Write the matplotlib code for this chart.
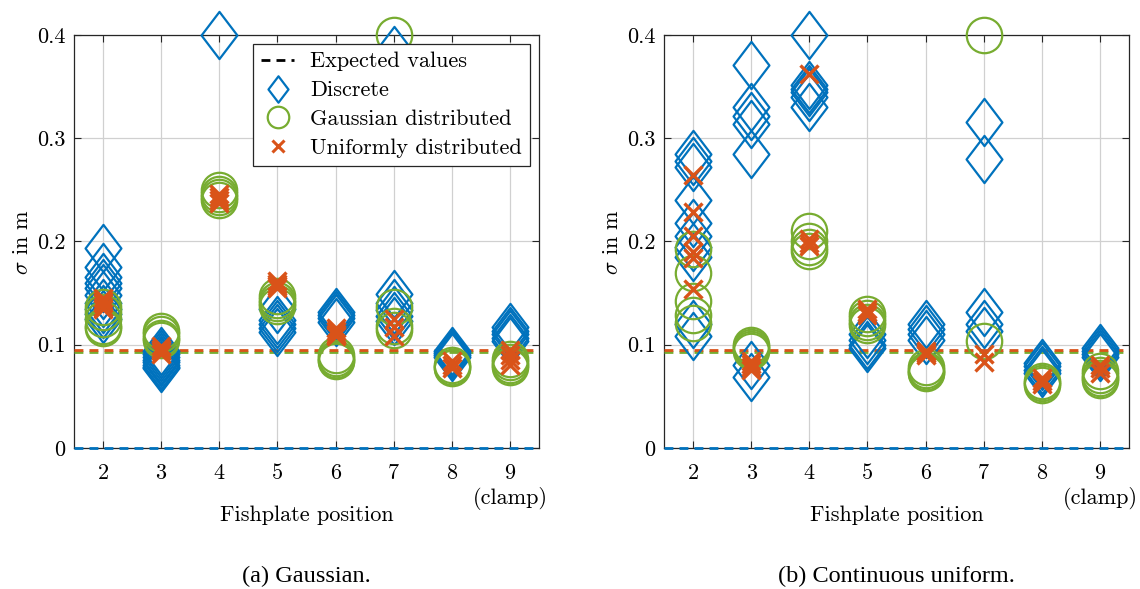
import matplotlib
matplotlib.use("Agg")
import matplotlib.pyplot as plt
from matplotlib.path import Path
from matplotlib.lines import Line2D

# ---------------- data ----------------
positions = [2, 3, 4, 5, 6, 7, 8, 9]
xtick_labels = ["2", "3", "4", "5", "6", "7", "8", "9"]
yticks = [0.0, 0.1, 0.2, 0.3, 0.4]
ytick_labels = ["0", "0.1", "0.2", "0.3", "0.4"]
series_names = ["Expected values", "Discrete", "Gaussian distributed", "Uniformly distributed"]
captions = ["(a) Gaussian.", "(b) Continuous uniform."]

# expected values (discrete, gaussian, uniform)
expected_discrete = 0.0
expected_gaussian = 0.093
expected_uniform = 0.0945

# panel (a) Gaussian
gauss_discrete = [
    [0.194, 0.175, 0.166, 0.160, 0.155, 0.148, 0.140, 0.135, 0.130, 0.125],
    [0.094, 0.091, 0.088, 0.085, 0.083, 0.080, 0.078, 0.077],
    [0.400],
    [0.135, 0.124, 0.120, 0.116, 0.112],
    [0.132, 0.129, 0.126, 0.122],
    [0.385, 0.149, 0.140, 0.134, 0.128, 0.123],
    [0.094, 0.092, 0.090, 0.088],
    [0.117, 0.113, 0.110, 0.107, 0.104],
]
gauss_gaussian = [
    [0.137, 0.132, 0.125, 0.118, 0.116],
    [0.113, 0.110, 0.107, 0.105],
    [0.250, 0.246, 0.243, 0.240],
    [0.147, 0.143, 0.140, 0.138],
    [0.090, 0.087, 0.085, 0.084],
    [0.400, 0.137, 0.118, 0.114],
    [0.080, 0.078, 0.077],
    [0.086, 0.083, 0.080, 0.078],
]
gauss_uniform = [
    [0.145, 0.142, 0.140, 0.137, 0.135],
    [0.099, 0.096, 0.094, 0.091],
    [0.246, 0.243, 0.240, 0.237],
    [0.162, 0.159, 0.157, 0.155],
    [0.116, 0.113, 0.110, 0.108],
    [0.125, 0.117, 0.108],
    [0.084, 0.080, 0.077],
    [0.095, 0.090, 0.085, 0.080],
]

# panel (b) Continuous uniform
unif_discrete = [
    [0.285, 0.278, 0.272, 0.240, 0.218, 0.205, 0.195, 0.185, 0.120, 0.108],
    [0.371, 0.330, 0.322, 0.314, 0.285, 0.080, 0.069],
    [0.400, 0.352, 0.348, 0.345, 0.340, 0.330],
    [0.110, 0.105, 0.100, 0.097],
    [0.120, 0.115, 0.110, 0.105],
    [0.316, 0.280, 0.132, 0.120, 0.113],
    [0.082, 0.079, 0.076, 0.073],
    [0.097, 0.094, 0.091, 0.088],
]
unif_gaussian = [
    [0.193, 0.169, 0.142, 0.129, 0.121],
    [0.100, 0.098, 0.096, 0.094],
    [0.210, 0.200, 0.195, 0.191],
    [0.130, 0.126, 0.122, 0.119],
    [0.078, 0.076, 0.074, 0.073],
    [0.400, 0.104],
    [0.065, 0.063, 0.061],
    [0.075, 0.071, 0.068, 0.066],
]
unif_uniform = [
    [0.264, 0.229, 0.205, 0.190, 0.184, 0.154],
    [0.084, 0.081, 0.078, 0.076],
    [0.362, 0.202, 0.199, 0.196],
    [0.135, 0.132, 0.129],
    [0.094, 0.092, 0.090],
    [0.091, 0.083],
    [0.068, 0.065, 0.062],
    [0.080, 0.077, 0.073],
]

# ---------------- style ----------------
C_BLUE = "#0072BD"
C_ORANGE = "#D95319"
C_GREEN = "#77AC30"

plt.rcParams["font.family"] = ["cmr10", "DejaVu Serif"]
plt.rcParams["mathtext.fontset"] = "cm"
plt.rcParams["axes.formatter.use_mathtext"] = True

diamond = Path([(0, 1), (0.76, 0), (0, -1), (-0.76, 0), (0, 1)],
               [Path.MOVETO, Path.LINETO, Path.LINETO, Path.LINETO, Path.CLOSEPOLY])

FS = 16

fig = plt.figure(figsize=(11.40, 5.89), dpi=100)
ax_l = fig.add_axes([0.0649, 0.2394, 0.4079, 0.7012])
ax_r = fig.add_axes([0.5825, 0.2394, 0.4079, 0.7012])

panels = [
    (ax_l, gauss_discrete, gauss_gaussian, gauss_uniform),
    (ax_r, unif_discrete, unif_gaussian, unif_uniform),
]

dash = (3.2, 2.2)

for i, (ax, d_disc, d_gauss, d_unif) in enumerate(panels):
    # expected values lines
    for val, col, z in [(expected_discrete, C_BLUE, 3),
                        (expected_gaussian, C_GREEN, 3),
                        (expected_uniform, C_ORANGE, 3.1)]:
        ln = ax.axhline(val, color=col, lw=2.0, zorder=z, clip_on=False)
        ln.set_dashes(dash)

    for pos, vals in zip(positions, d_disc):
        ax.plot([pos] * len(vals), vals, linestyle="none", marker=diamond,
                markersize=34, markerfacecolor="none", markeredgecolor=C_BLUE,
                markeredgewidth=1.6, clip_on=False, zorder=4)
    for pos, vals in zip(positions, d_gauss):
        ax.plot([pos] * len(vals), vals, linestyle="none", marker="o",
                markersize=25.5, markerfacecolor="none", markeredgecolor=C_GREEN,
                markeredgewidth=1.6, clip_on=False, zorder=5)
    for pos, vals in zip(positions, d_unif):
        ax.plot([pos] * len(vals), vals, linestyle="none", marker="x",
                markersize=12.5, markeredgecolor=C_ORANGE,
                markeredgewidth=2.4, clip_on=False, zorder=6)

    ax.set_xlim(1.5, 9.5)
    ax.set_ylim(0, 0.4)
    ax.set_xticks(positions, labels=xtick_labels)
    ax.set_yticks(yticks, labels=ytick_labels)
    ax.tick_params(direction="in", length=5, width=0.8, labelsize=FS,
                   top=True, right=True, color="#262626", pad=6)
    ax.tick_params(axis="x", pad=11)
    ax.grid(True, color="#d0d0d0", lw=0.9)
    ax.set_axisbelow(True)
    for sp in ax.spines.values():
        sp.set_color("#262626")
        sp.set_linewidth(0.9)
        sp.set_zorder(2.5)

    ax.set_xlabel("Fishplate position", fontsize=FS, labelpad=16)
    ax.set_ylabel(r"$\sigma$ in m", fontsize=FS, labelpad=4)
    ax.text(9, -0.049, "(clamp)", fontsize=FS, ha="center", va="center",
            transform=ax.transData, clip_on=False)

    ax.text(0.5, -0.31, captions[i], fontsize=17.5, ha="center", va="center",
            transform=ax.transAxes, family="Liberation Serif")

# legend on left panel
handles = [
    Line2D([], [], color="black", lw=2.0, dashes=dash),
    Line2D([], [], linestyle="none", marker=diamond, markersize=19,
           markerfacecolor="none", markeredgecolor=C_BLUE, markeredgewidth=1.6),
    Line2D([], [], linestyle="none", marker="o", markersize=15.5,
           markerfacecolor="none", markeredgecolor=C_GREEN, markeredgewidth=1.6),
    Line2D([], [], linestyle="none", marker="x", markersize=9,
           markeredgecolor=C_ORANGE, markeredgewidth=2.2),
]
leg = ax_l.legend(handles, series_names, loc="upper right",
                  bbox_to_anchor=(0.98, 0.978), borderaxespad=0,
                  fontsize=FS, frameon=True, fancybox=False, framealpha=1,
                  edgecolor="#262626", handlelength=1.5, handletextpad=0.7,
                  labelspacing=0.42, borderpad=0.35)
leg.get_frame().set_linewidth(0.9)
leg.set_zorder(10)

fig.savefig("out.png", dpi=100)
